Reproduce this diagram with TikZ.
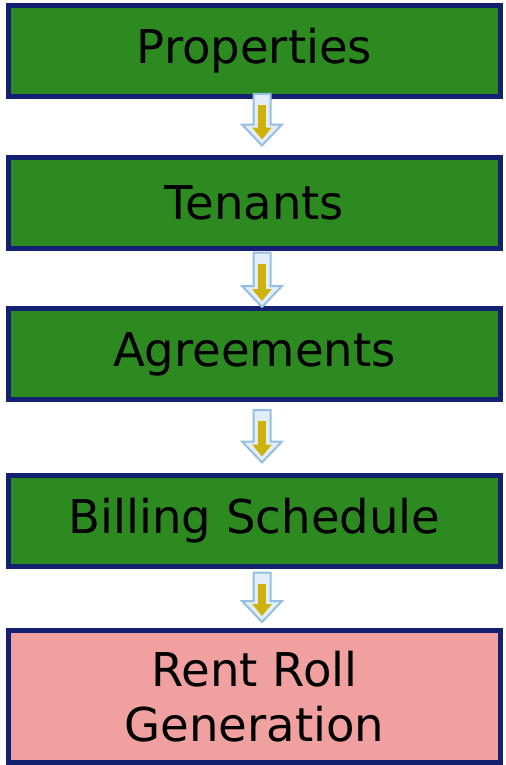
\documentclass[tikz,border=0pt]{standalone}
\usepackage{fontspec}
\setmainfont{DejaVu Sans}
\usepackage{xcolor}
\usepackage{tikz}
\usetikzlibrary{arrows.meta,positioning,calc}

\definecolor{boxgreen}{RGB}{44,138,32}
\definecolor{boxpink}{RGB}{240,160,158}
\definecolor{boxedge}{RGB}{20,32,112}
\definecolor{arrowedge}{RGB}{150,190,225}
\definecolor{arrowfill}{RGB}{226,237,248}
\definecolor{arrowcore}{RGB}{205,178,10}

\tikzset{
  stagebox/.style={draw=boxedge, line width=0.1cm, fill=boxgreen,
    minimum width=9.84cm, minimum height=1.82cm, inner sep=0pt,
    font=\fontsize{26.5}{31}\selectfont, align=center},
  outputbox/.style={stagebox, fill=boxpink, minimum height=2.64cm},
  arrowbody/.style={draw=arrowedge, fill=arrowfill, line width=0.04cm, line join=miter},
  arrowinner/.style={draw=arrowcore, line width=0.16cm,
    -{Triangle[width=0.38cm, length=0.24cm]}}
}

% fat down arrow between two named coordinates
\newcommand{\flowarrow}[2]{%
  \draw[arrowbody] ($(#1)+(-0.17,0)$) -- ($(#1)+(0.17,0)$) -- ($(#2)+(0.17,0.42)$)
    -- ($(#2)+(0.4,0.42)$) -- (#2) -- ($(#2)+(-0.4,0.42)$) -- ($(#2)+(-0.17,0.42)$) -- cycle;
  \draw[arrowinner] ($(#1)+(0,-0.22)$) -- ($(#2)+(0,0.12)$);
}

\begin{document}
\begin{tikzpicture}
        \useasboundingbox (0,0) rectangle (10.1,-15.3);

        % Stages
        \node[stagebox] (prop) at (5.09,-1.02) {Properties};
        \node[stagebox] (ten) at (5.09,-4.05) {Tenants};
        \node[stagebox] (agr) at (5.09,-7.08) {Agreements};
        \node[stagebox] (bill) at (5.09,-10.41) {Billing Schedule};
        \node[outputbox] (roll) at (5.09,-13.93) {Rent Roll\\Generation};

        % Arrow ends
        \coordinate (a1) at ([xshift=0.15cm, yshift=0.1cm]prop.south);
        \coordinate (b1) at ([xshift=0.15cm, yshift=0.18cm]ten.north);
        \coordinate (a2) at ([xshift=0.15cm, yshift=-0.04cm]ten.south);
        \coordinate (b2) at ([xshift=0.15cm, yshift=-0.02cm]agr.north);
        \coordinate (a3) at ([xshift=0.15cm, yshift=-0.16cm]agr.south);
        \coordinate (b3) at ([xshift=0.15cm, yshift=0.2cm]bill.north);
        \coordinate (a4) at ([xshift=0.15cm, yshift=-0.08cm]bill.south);
        \coordinate (b4) at ([xshift=0.15cm, yshift=0.12cm]roll.north);

        % Arrows
        \flowarrow{a1}{b1}
        \flowarrow{a2}{b2}
        \flowarrow{a3}{b3}
        \flowarrow{a4}{b4}
\end{tikzpicture}
\end{document}
